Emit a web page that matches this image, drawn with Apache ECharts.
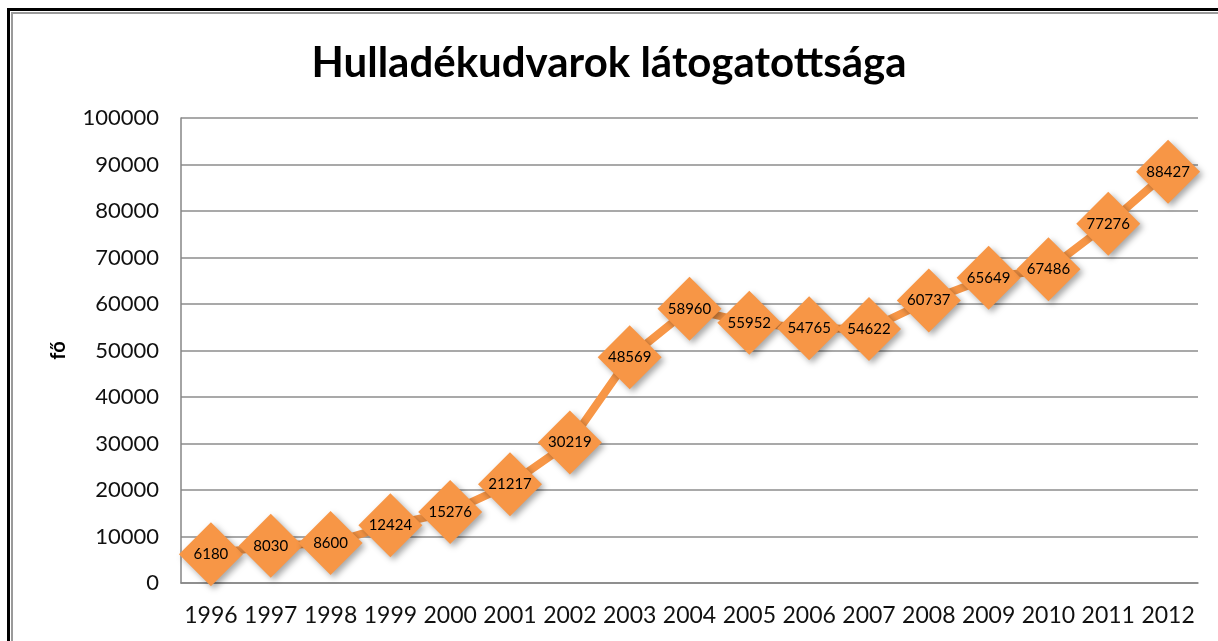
<!DOCTYPE html>
<html>
<head>
<meta charset="utf-8">
<script src="https://cdn.jsdelivr.net/npm/echarts@6/dist/echarts.min.js"></script>
<style>
html, body { margin: 0; padding: 0; background: #fff; }
#frame { position: absolute; left: 7px; top: 8px; width: 1300px; height: 700px;
  border-left: 3px solid #000; border-top: 3px solid #000; }
#frame2 { position: absolute; left: 0; top: 0; width: 100%; height: 100%;
  border-left: 2px solid #9a9a9a; border-top: 2px solid #9a9a9a; margin: 1px; }
#chart { position: absolute; left: 0; top: 0; width: 1218px; height: 641px; }
</style>
</head>
<body>
<div id="frame"><div id="frame2"></div></div>
<div id="chart"></div>
<script>
var years = ['1996', '1997', '1998', '1999', '2000', '2001', '2002', '2003', '2004',
	'2005', '2006', '2007', '2008', '2009', '2010', '2011', '2012'];
var visitors = [6180, 8030, 8600, 12424, 15276, 21217, 30219, 48569, 58960,
	55952, 54765, 54622, 60737, 65649, 67486, 77276, 88427];
var chartTitle = 'Hulladékudvarok látogatottsága';
var yName = 'fő';

var chartDom = document.getElementById('chart');
var visitorChart = echarts.init(chartDom);
var option = {
	animation: false,
	title: {
		text: chartTitle,
		left: 'center',
		top: 37,
		textStyle: {
			fontFamily: 'Lato',
			fontWeight: 'bold',
			fontSize: 42,
			color: '#000'
		}
	},
	grid: {
		left: 181,
		right: 20,
		top: 118,
		bottom: 58
	},
	xAxis: {
		type: 'category',
		data: years,
		boundaryGap: true,
		axisTick: { show: false },
		axisLine: { lineStyle: { color: '#868686', width: 1.5 } },
		axisLabel: {
			interval: 0,
			color: '#111',
			fontFamily: 'Lato',
			fontSize: 23,
			margin: 21
		}
	},
	yAxis: {
		type: 'value',
		min: 0,
		max: 100000,
		interval: 10000,
		name: yName,
		nameLocation: 'middle',
		nameGap: 112,
		nameRotate: 90,
		nameTextStyle: {
			fontFamily: 'Lato',
			fontWeight: 'bold',
			fontSize: 20,
			color: '#000'
		},
		axisLine: { show: true, lineStyle: { color: '#868686', width: 1.5 } },
		axisTick: { show: false },
		axisLabel: {
			color: '#111',
			fontFamily: 'Lato',
			fontSize: 22,
			margin: 22,
			formatter: function (v) { return String(v); }
		},
		splitLine: { lineStyle: { color: '#8c8c8c', width: 1.5 } }
	},
	series: [{
		type: 'line',
		data: visitors,
		symbol: 'diamond',
		symbolSize: [64, 64],
		showAllSymbol: true,
		lineStyle: { color: '#F79646', width: 8 },
		itemStyle: {
			color: '#F79646',
			shadowBlur: 6,
			shadowOffsetX: 3,
			shadowOffsetY: 3,
			shadowColor: 'rgba(0,0,0,0.35)'
		},
		label: {
			show: true,
			position: 'inside',
			color: '#000',
			fontFamily: 'Lato',
			fontSize: 15
		}
	}]
};
visitorChart.setOption(option);
</script>
</body>
</html>
